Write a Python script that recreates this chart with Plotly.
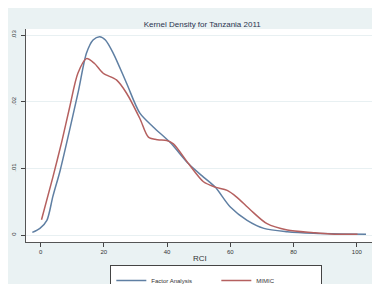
import plotly.graph_objects as go

# Factor Analysis density
fa_x = [-2.6, -0.2, 2.0, 3.9, 6.2, 9.2, 12.0, 14.5, 16.6, 18.7, 20.5, 23.0, 27.2, 31.4, 35.7,
        41.0, 46.8, 51.5, 55.2, 60.0, 65.3, 70.6, 78.0, 86.3, 95.0, 102.9]
fa_y = [0.0004, 0.001, 0.0022, 0.0058, 0.0097, 0.0158, 0.0217, 0.0273, 0.0293, 0.0298, 0.0293,
        0.0273, 0.0228, 0.0183, 0.0162, 0.0139, 0.0107, 0.0087, 0.0072, 0.0042, 0.0022, 0.001,
        0.0005, 0.00025, 0.00015, 0.00012]

# MIMIC density
mimic_x = [0.3, 3.9, 6.7, 9.2, 11.8, 14.5, 17.0, 19.8, 24.0, 27.2, 31.4, 34.1, 37.0, 39.9,
           42.0, 46.8, 51.5, 55.2, 59.0, 62.0, 66.3, 71.6, 78.0, 86.3, 91.7, 100.2]
mimic_y = [0.0023, 0.0087, 0.014, 0.0192, 0.0243, 0.0265, 0.0258, 0.0243, 0.0233, 0.0213,
           0.0175, 0.0147, 0.0143, 0.0142, 0.0137, 0.0107, 0.008, 0.0072, 0.0067, 0.0057,
           0.0038, 0.0017, 0.00075, 0.00035, 0.00015, 0.0001]

x_ticks = [0, 20, 40, 60, 80, 100]
y_ticks = [0, 0.01, 0.02, 0.03]
y_tick_labels = ["0", ".01", ".02", ".03"]

title = "Kernel Density for Tanzania 2011"
x_title = "RCI"

BG = "#eaf2f3"
BLUE = "#5f7fa3"
RED = "#b5605f"

fig = go.Figure()
fig.add_trace(go.Scatter(x=fa_x, y=fa_y, mode="lines", name="Factor Analysis",
                         line=dict(color=BLUE, width=1.5, shape="spline", smoothing=0.8)))
fig.add_trace(go.Scatter(x=mimic_x, y=mimic_y, mode="lines", name="MIMIC",
                         line=dict(color=RED, width=1.5, shape="spline", smoothing=0.8)))

fig.update_layout(
    width=372, height=276,
    margin=dict(l=18, r=7, t=21, b=42, autoexpand=False),
    paper_bgcolor=BG, plot_bgcolor="white",
    font=dict(family="Liberation Sans, Arial, sans-serif", color="#333333"),
    title=dict(text=title, x=0.522, xanchor="center", y=0.942, yanchor="middle",
               font=dict(size=8, color="#2a3550")),
    showlegend=True,
    legend=dict(orientation="h", x=0.243, xanchor="left", y=-0.108, yanchor="top",
                bgcolor="white", bordercolor="#444444", borderwidth=1,
                font=dict(size=6, color="#333333"), itemwidth=30,
                entrywidth=60, entrywidthmode="pixels"),
    xaxis=dict(range=[-4.6, 105.1], tickvals=x_ticks, ticks="outside", ticklen=4,
               tickcolor="#444444", showline=True, linecolor="#555555", linewidth=1,
               showgrid=False, zeroline=False, tickfont=dict(size=6), automargin=False),
    yaxis=dict(range=[-0.00105, 0.03095], tickvals=y_ticks, ticktext=y_tick_labels,
               ticks="outside", ticklen=4, tickcolor="#444444", tickangle=-90,
               ticklabelstandoff=3,
               showline=True, linecolor="#555555", linewidth=1, automargin=False,
               showgrid=True, gridcolor="#e8f0f2", gridwidth=1, zeroline=False,
               tickfont=dict(size=6)),
    annotations=[dict(text=x_title, xref="paper", yref="paper", x=0.5, y=-0.078,
                      xanchor="center", yanchor="middle", showarrow=False,
                      font=dict(size=8, color="#333333"))],
)

fig.write_html("out.html")
